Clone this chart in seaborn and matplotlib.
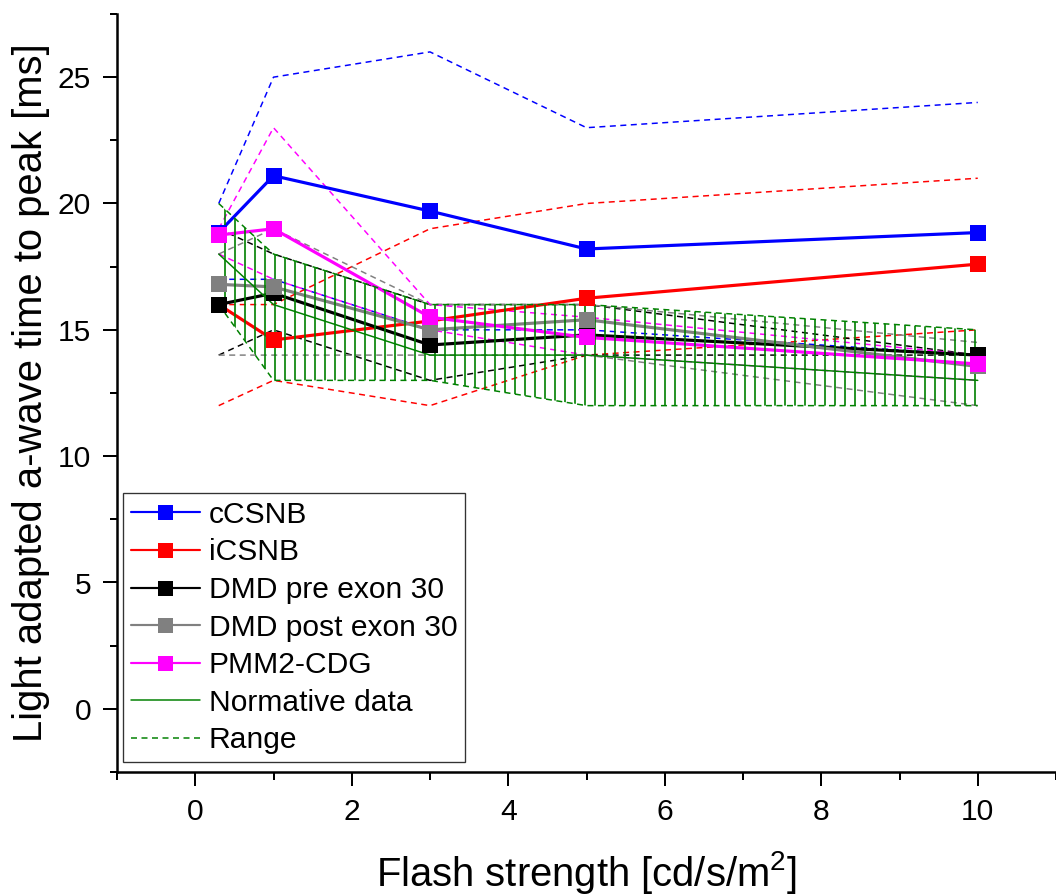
import numpy as np
import pandas as pd
import matplotlib
matplotlib.use("Agg")
import matplotlib.pyplot as plt
import seaborn as sns
from matplotlib.lines import Line2D
from matplotlib.ticker import MultipleLocator

# ---------------- data ----------------
flash = [0.3, 1, 3, 5, 10]

ccsnb = [18.85, 21.1, 19.7, 18.2, 18.85]
icsnb = [16.0, 14.6, 15.35, 16.25, 17.6]
dmd_pre = [16.0, 16.45, 14.4, 14.8, 14.0]
dmd_post = [16.8, 16.7, 15.0, 15.4, 13.55]
pmm2 = [18.75, 19.0, 15.5, 14.7, 13.65]

ccsnb_lo = [17, 17, 15, 15, 14]
ccsnb_hi = [20, 25, 26, 23, 24]
icsnb_lo = [12, 13, 12, 14, 15]
icsnb_hi = [16, 16, 19, 20, 21]
dmd_pre_lo = [14, 15, 13, 14, 14]
dmd_pre_hi = [19, 18, 16, 16, 14]
dmd_post_lo = [14, 14, 14, 14, 12]
dmd_post_hi = [18, 19, 16, 16, 14.5]
pmm2_lo = [18, 17, 15, 14, 13]
pmm2_hi = [19, 23, 16, 15.5, 14]

norm_mean = [18, 16, 14, 14, 13]
norm_lo = [16, 13, 13, 12, 12]
norm_hi = [20, 18, 16, 16, 15]

labels = ["cCSNB", "iCSNB", "DMD pre exon 30", "DMD post exon 30", "PMM2-CDG"]
colors = ["#0000ff", "#ff0000", "#000000", "#808080", "#ff00ff"]
means = [ccsnb, icsnb, dmd_pre, dmd_post, pmm2]
lows = [ccsnb_lo, icsnb_lo, dmd_pre_lo, dmd_post_lo, pmm2_lo]
highs = [ccsnb_hi, icsnb_hi, dmd_pre_hi, dmd_post_hi, pmm2_hi]

# ---------------- style ----------------
sns.set_style("ticks")
plt.rcParams["font.family"] = ["Liberation Sans", "DejaVu Sans"]
plt.rcParams["mathtext.fontset"] = "custom"
plt.rcParams["mathtext.rm"] = "Liberation Sans"
plt.rcParams["hatch.linewidth"] = 1.0
plt.rcParams["text.color"] = "black"
plt.rcParams["axes.labelcolor"] = "black"
plt.rcParams["xtick.color"] = "black"
plt.rcParams["ytick.color"] = "black"
plt.rcParams["axes.edgecolor"] = "black"

DPI = 120
fig = plt.figure(figsize=(1056 / DPI, 895 / DPI), dpi=DPI)
ax = fig.add_axes([117 / 1056, 1 - 772 / 895, 939 / 1056, 758 / 895])

dash = (0, (4, 3))

# range lines of the patient groups
for lo, hi, col in zip(lows, highs, colors):
    sns.lineplot(x=flash, y=lo, color=col, lw=0.9, linestyle=dash, ax=ax, zorder=1.5)
    sns.lineplot(x=flash, y=hi, color=col, lw=0.9, linestyle=dash, ax=ax, zorder=1.5)

# main lines
for m, col in zip(means, colors):
    sns.lineplot(x=flash, y=m, color=col, lw=1.9, ax=ax, zorder=2)

# normative band
ax.fill_between(flash, norm_lo, norm_hi, facecolor="none", edgecolor="#008000",
                hatch="||", linewidth=0, zorder=2.5)
sns.lineplot(x=flash, y=norm_lo, color="#008000", lw=0.9, linestyle=dash, ax=ax, zorder=2.6)
sns.lineplot(x=flash, y=norm_hi, color="#008000", lw=0.9, linestyle=dash, ax=ax, zorder=2.6)
sns.lineplot(x=flash, y=norm_mean, color="#008000", lw=0.9, ax=ax, zorder=2.6)

# markers
for m, col in zip(means, colors):
    sns.scatterplot(x=flash, y=m, color=col, marker="s", s=85, linewidth=0,
                    ax=ax, zorder=3)

# ---------------- axes ----------------
ax.set_xlim(-1, 11)
ax.set_ylim(-2.5, 27.5)
ax.xaxis.set_major_locator(MultipleLocator(2))
ax.xaxis.set_minor_locator(MultipleLocator(1))
ax.yaxis.set_major_locator(MultipleLocator(5))
ax.yaxis.set_minor_locator(MultipleLocator(2.5))
sns.despine(ax=ax)
for s in ["left", "bottom"]:
    ax.spines[s].set_linewidth(1.5)
    ax.spines[s].set_color("black")
ax.tick_params(which="major", length=8.5, width=1.2, labelsize=18, pad=7,
               direction="out", colors="black")
ax.tick_params(which="minor", length=4.5, width=1.2, direction="out", colors="black")

ax.set_xlabel(r"Flash strength [cd/s/m$^\mathregular{2}$]", fontsize=24, labelpad=14)
ax.set_ylabel("Light adapted a-wave time to peak [ms]", fontsize=24, labelpad=5)

# ---------------- legend ----------------
handles = [Line2D([], [], color=c, lw=1.3, marker="s", markersize=9,
                  markeredgewidth=0) for c in colors]
handles.append(Line2D([], [], color="#008000", lw=0.9))
handles.append(Line2D([], [], color="#008000", lw=0.9, linestyle=dash))
leg = ax.legend(handles, labels + ["Normative data", "Range"], loc="lower left",
                bbox_to_anchor=(0.0064, 0.0132), borderaxespad=0, fontsize=18,
                frameon=True, fancybox=False, edgecolor="#333333", framealpha=1,
                handlelength=2.3, handletextpad=0.3, labelspacing=0.32,
                borderpad=0.25)
leg.get_frame().set_linewidth(0.8)
for t in leg.get_texts():
    t.set_color("black")

fig.savefig("out.png", dpi=DPI)
